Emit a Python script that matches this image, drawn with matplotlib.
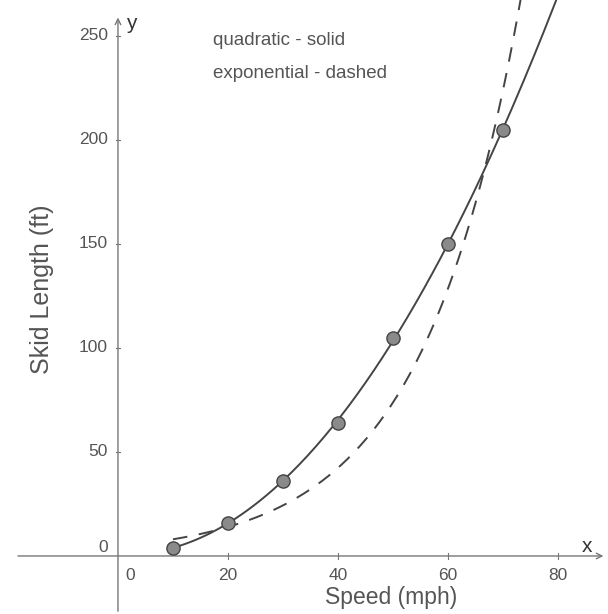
import matplotlib.pyplot as plt
import numpy as np

plt.rcParams['font.family'] = ['Liberation Sans', 'DejaVu Sans']

# measured points
speed = np.array([10, 20, 30, 40, 50, 60, 70])
skid = np.array([4, 16, 36, 64, 105, 150, 205])

# exponential model y = a * exp(k * x)
exp_a = 4.6
exp_k = 0.0555

x_ticks = [0, 20, 40, 60, 80]
y_ticks = [0, 50, 100, 150, 200, 250]

fig = plt.figure(figsize=(6.08, 6.14), dpi=100)
ax = fig.add_axes([0, 0, 1, 1])
ax.set_xlim(-21.45, 89.1)
ax.set_ylim(-27.9, 267.3)
for s in ax.spines.values():
    s.set_visible(False)
ax.set_xticks([])
ax.set_yticks([])

txt = '#555555'
axc = '#777777'

# axes with arrow heads
ax.annotate('', xy=(0.997, 27.9 / 295.2), xytext=(0.025, 27.9 / 295.2),
            xycoords='axes fraction',
            arrowprops=dict(arrowstyle='->', color=axc, lw=1.0))
ax.annotate('', xy=(21.45 / 110.55, 0.976), xytext=(21.45 / 110.55, 0.0),
            xycoords='axes fraction',
            arrowprops=dict(arrowstyle='->', color=axc, lw=1.0))

# ticks and labels
for t in x_ticks:
    if t != 0:
        ax.plot([t, t], [-1.5, 1.5], color=axc, lw=0.8)
    ax.text(t + (2.2 if t == 0 else 0), -6, str(t), ha='center', va='top',
            fontsize=12.5, color=txt)
for t in y_ticks:
    if t != 0:
        ax.plot([-0.4, 0.4], [t, t], color=axc, lw=0.8)
    ax.text(-1.8, t + (4 if t == 0 else 0), str(t), ha='right', va='center',
            fontsize=12.5, color=txt)

ax.text(1.5, 256, 'y', ha='left', va='center', fontsize=15, color='#333333')
ax.text(85.3, 4.5, 'x', ha='center', va='center', fontsize=15, color='#333333')
ax.text(49.6, -20, 'Speed (mph)', ha='center', va='center', fontsize=16.5, color=txt)
ax.text(-13.8, 128, 'Skid Length (ft)', ha='center', va='center', rotation=90,
        fontsize=18, color=txt)

ax.text(17.2, 248, 'quadratic - solid', ha='left', va='center', fontsize=13.5, color=txt)
ax.text(17.2, 232, 'exponential - dashed', ha='left', va='center', fontsize=13.5, color=txt)

# fitted curves
xs = np.linspace(speed[0], 85, 200)
quad = np.polyfit(speed, skid, 2)
ax.plot(xs, np.polyval(quad, xs), color='#444444', lw=1.4, zorder=3)
ax.plot(xs, exp_a * np.exp(exp_k * xs), color='#444444', lw=1.4,
        dashes=(7.5, 6), zorder=3)

ax.plot(speed, skid, 'o', ms=9.5, mfc='#8a8a8a', mec='#444444', mew=1.0, zorder=4)

fig.savefig('out.png', dpi=100)
